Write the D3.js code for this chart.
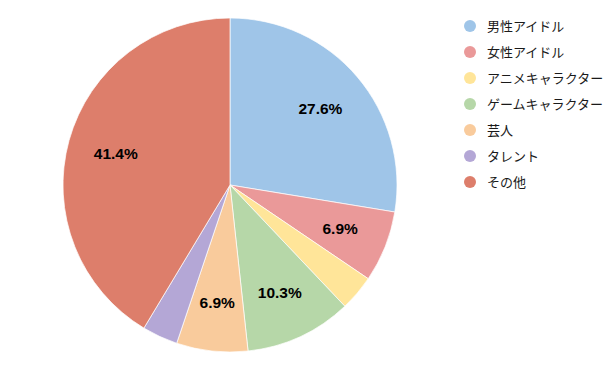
<!DOCTYPE html>
<html>
<head>
<meta charset="utf-8">
<script src="https://cdn.jsdelivr.net/npm/d3@7"></script>
<style>
  body { margin: 0; background: #fff; }
  text { font-family: "Liberation Sans", Arial, "Noto Sans CJK JP", sans-serif; }
</style>
</head>
<body>
<div class="vis-pie"></div>
<script>
const categories = ["男性アイドル", "女性アイドル", "アニメキャラクター", "ゲームキャラクター", "芸人", "タレント", "その他"];
const counts = [8, 2, 1, 3, 2, 1, 12];
const colors = ["#9fc5e8", "#ea9999", "#ffe599", "#b6d7a8", "#f9cb9c", "#b4a7d6", "#dd7e6b"];

const width = 616, height = 371;
const cx = 230, cy = 185, radius = 167;

const svg = d3.select(".vis-pie")
  .append("svg")
  .attr("width", width)
  .attr("height", height);

const g = svg.append("g")
  .attr("transform", "translate(" + cx + "," + cy + ")");

const data = categories.map((c, i) => ({ name: c, value: counts[i], color: colors[i] }));
const total = d3.sum(counts);

const pie = d3.pie().value(d => d.value).sort(null);
const arc = d3.arc().innerRadius(0).outerRadius(radius);
const labelArc = d3.arc().innerRadius(radius * 0.71).outerRadius(radius * 0.71);

const arcs = pie(data);

g.selectAll("path")
  .data(arcs)
  .enter().append("path")
  .attr("d", arc)
  .attr("fill", d => d.data.color)
  .attr("stroke", "#fff")
  .attr("stroke-width", 0.7);

// only label slices over 5%
g.selectAll("text.pct")
  .data(arcs.filter(d => d.data.value / total > 0.05))
  .enter().append("text")
  .attr("class", "pct")
  .attr("transform", d => "translate(" + labelArc.centroid(d) + ")")
  .attr("text-anchor", "middle")
  .attr("dy", "0.36em")
  .attr("font-size", 15.5)
  .attr("font-weight", "bold")
  .attr("fill", "#000")
  .text(d => (d.data.value / total * 100).toFixed(1) + "%");

// legend
const legend = svg.append("g")
  .attr("transform", "translate(470,26)");

const row = legend.selectAll("g")
  .data(data)
  .enter().append("g")
  .attr("transform", (d, i) => "translate(0," + (i * 26) + ")");

row.append("circle")
  .attr("r", 6)
  .attr("fill", d => d.color);

row.append("text")
  .attr("x", 17)
  .attr("dy", "0.36em")
  .attr("font-size", 13)
  .attr("fill", "#1a1a1a")
  .attr("font-family", "'Noto Sans CJK JP', sans-serif")
  .text(d => d.name);
</script>
</body>
</html>
